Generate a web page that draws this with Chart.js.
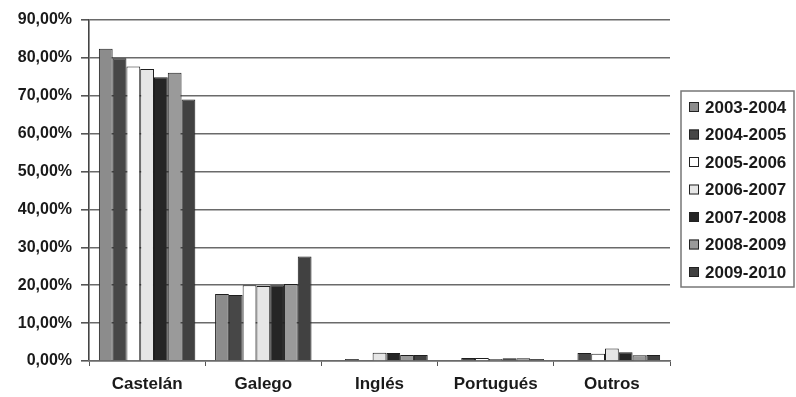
<!DOCTYPE html>
<html lang="gl">
<head>
<meta charset="UTF-8">
<title>Lingua por curso</title>
<script src="https://cdn.jsdelivr.net/npm/chart.js"></script>
<style>
  html, body { margin: 0; padding: 0; background: #fff; }
  #wrap { position: relative; width: 796px; height: 397px; }
</style>
</head>
<body>
<div id="wrap"><canvas id="langChart" width="796" height="397"></canvas></div>
<script>
// categories and series values (percent)
const categories = ['Castelán', 'Galego', 'Inglés', 'Portugués', 'Outros'];
const seriesLabels = ['2003-2004', '2004-2005', '2005-2006', '2006-2007', '2007-2008', '2008-2009', '2009-2010'];
const v2003 = [82.4, 17.7, 0.0, 0.0, 0.0];
const v2004 = [79.9, 17.4, 0.5, 0.8, 2.1];
const v2005 = [77.7, 20.0, 0.0, 0.8, 1.9];
const v2006 = [77.1, 19.8, 2.2, 0.5, 3.3];
const v2007 = [74.9, 20.0, 2.1, 0.7, 2.3];
const v2008 = [76.1, 20.3, 1.6, 0.7, 1.5];
const v2009 = [69.0, 27.6, 1.6, 0.5, 1.6];
const yTicks = [0, 10, 20, 30, 40, 50, 60, 70, 80, 90];

const seriesValues = [v2003, v2004, v2005, v2006, v2007, v2008, v2009];
const fills = ['#8c8c8c', '#474747', '#ffffff', '#e6e6e6', '#252525', '#9a9a9a', '#414141'];

const FONT = '"Liberation Sans", Arial, sans-serif';

// boxed legend on the right, drawn on the canvas
const boxLegend = {
    id: 'boxLegend',
    afterDraw(chart) {
        const ctx = chart.ctx;
        const x0 = 681, y0 = 91, w = 113, h = 196;
        ctx.save();
        ctx.strokeStyle = '#777';
        ctx.lineWidth = 1.5;
        ctx.strokeRect(x0, y0, w, h);
        ctx.font = 'bold 17px ' + FONT;
        ctx.textBaseline = 'middle';
        chart.data.datasets.forEach((ds, i) => {
            const cy = 107 + i * 27.5;
            ctx.fillStyle = ds.backgroundColor;
            ctx.fillRect(689, cy - 5, 10, 10);
            ctx.strokeStyle = '#222';
            ctx.lineWidth = 1;
            ctx.strokeRect(689.5, cy - 4.5, 9, 9);
            ctx.fillStyle = '#1a1a1a';
            ctx.fillText(ds.label, 705, cy + 1);
        });
        ctx.restore();
    }
};

new Chart(document.getElementById('langChart'), {
    type: 'bar',
    data: {
        labels: categories,
        datasets: seriesLabels.map((lab, i) => ({
            label: lab,
            data: seriesValues[i],
            backgroundColor: fills[i],
            borderColor: '#1e1e1e',
            borderWidth: 1,
            categoryPercentage: 0.83,
            barPercentage: 1.0
        }))
    },
    options: {
        responsive: false,
        animation: false,
        layout: { padding: { top: 20, right: 126, left: 0, bottom: 0 } },
        plugins: {
            legend: { display: false },
            tooltip: { enabled: false }
        },
        scales: {
            y: {
                min: 0,
                max: 90,
                afterFit(scale) { scale.width = 89; },
                afterBuildTicks(scale) { scale.ticks = yTicks.map(v => ({ value: v })); },
                ticks: {
                    color: '#1a1a1a',
                    padding: 9,
                    font: { family: FONT, size: 16, weight: 'bold' },
                    callback: v => v.toFixed(2).replace('.', ',') + '%'
                },
                grid: {
                    color: '#6a6a6a',
                    lineWidth: 1.6,
                    tickColor: '#555',
                    tickLength: 8
                },
                border: { color: '#444', width: 1.6 }
            },
            x: {
                afterFit(scale) { scale.height = 36; },
                ticks: {
                    color: '#1a1a1a',
                    padding: 8,
                    font: { family: FONT, size: 17, weight: 'bold' }
                },
                grid: {
                    drawOnChartArea: false,
                    tickColor: '#555',
                    tickLength: 5
                },
                border: { color: '#6a6a6a', width: 1.6 }
            }
        }
    },
    plugins: [boxLegend]
});
</script>
</body>
</html>
